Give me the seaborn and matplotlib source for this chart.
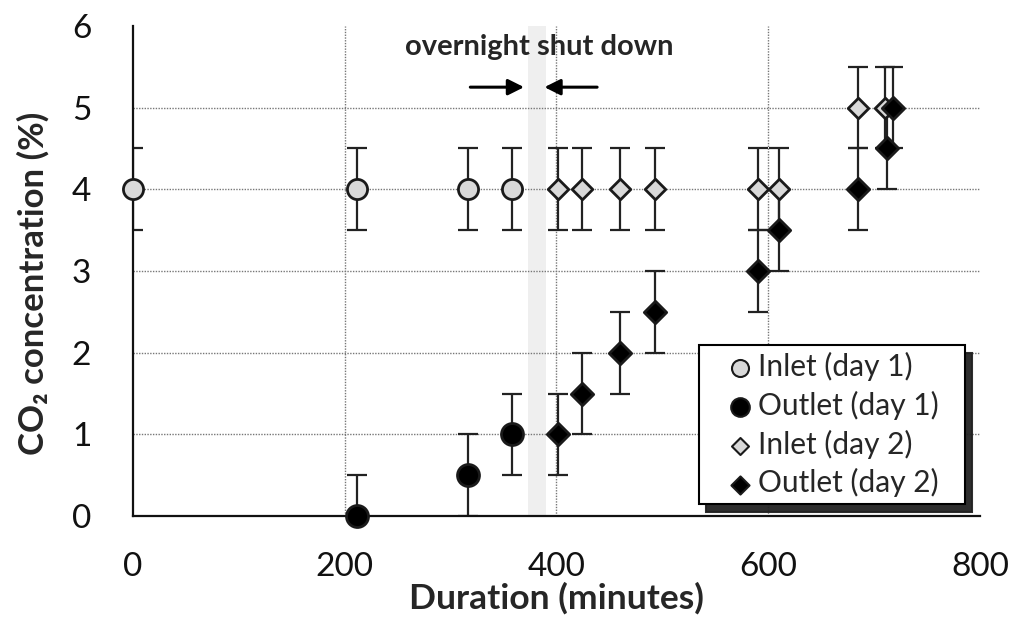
import matplotlib
matplotlib.use("Agg")
import matplotlib.pyplot as plt
import seaborn as sns
import pandas as pd

sns.set_theme(style="white")
plt.rcParams['font.family'] = ['Lato', 'DejaVu Sans']

# Measured CO2 concentrations (%), error +/- 0.5 %
inlet_d1_t = [0, 212, 316, 358]
inlet_d1_c = [4, 4, 4, 4]
outlet_d1_t = [212, 316, 358]
outlet_d1_c = [0, 0.5, 1.0]
inlet_d2_t = [401, 424, 460, 493, 590, 610, 685, 710]
inlet_d2_c = [4, 4, 4, 4, 4, 4, 5, 5]
outlet_d2_t = [401, 424, 460, 493, 590, 610, 685, 712, 718]
outlet_d2_c = [1, 1.5, 2, 2.5, 3, 3.5, 4, 4.5, 5]
err = 0.5

shutdown_span = (373, 390)
x_ticks = [0, 200, 400, 600, 800]
y_ticks = [0, 1, 2, 3, 4, 5, 6]

series = [
    ("Inlet (day 1)", inlet_d1_t, inlet_d1_c, "o", "#d9d9d9", 210),
    ("Outlet (day 1)", outlet_d1_t, outlet_d1_c, "o", "black", 250),
    ("Inlet (day 2)", inlet_d2_t, inlet_d2_c, "D", "#d9d9d9", 110),
    ("Outlet (day 2)", outlet_d2_t, outlet_d2_c, "D", "black", 130),
]
legend_sizes = [150, 180, 75, 85]

fig = plt.figure(figsize=(10.15, 6.24), dpi=100)
ax = fig.add_axes([0.131, 0.173, 0.8345, 0.7855])

ax.axvspan(*shutdown_span, color="#efefef", zorder=0.5, lw=0)

for label, t, c, m, fc, s in series:
    ax.errorbar(t, c, yerr=err, fmt="none", ecolor="#222222", elinewidth=1.6,
                capsize=7, capthick=1.6, zorder=2)

for label, t, c, m, fc, s in series:
    df = pd.DataFrame({"t": t, "c": c})
    sns.scatterplot(data=df, x="t", y="c", marker=m, s=s, color=fc,
                    edgecolor="#1a1a1a", linewidth=2, ax=ax, label=label,
                    zorder=3, clip_on=False)

ax.set_xlim(0, 800)
ax.set_ylim(0, 6)
ax.set_xticks(x_ticks)
ax.set_yticks(y_ticks)
ax.tick_params(axis="both", length=0, labelsize=24, colors="#111111")
ax.tick_params(axis="x", pad=26)
ax.tick_params(axis="y", pad=30)

ax.grid(True, linestyle=(0, (1, 1)), color="#777777", linewidth=1.0, zorder=0)
for gl in [ax.xaxis.get_gridlines()[0], ax.xaxis.get_gridlines()[-1],
           ax.yaxis.get_gridlines()[0], ax.yaxis.get_gridlines()[-1]]:
    gl.set_visible(False)

sns.despine(ax=ax, top=True, right=True)
for sp in ["left", "bottom"]:
    ax.spines[sp].set_color("#111111")
    ax.spines[sp].set_linewidth(1.6)

ax.set_xlabel("Duration (minutes)", fontsize=25.5, fontweight="bold", labelpad=0)
ax.set_ylabel("CO\u2082 concentration (%)", fontsize=25, fontweight="bold")
ax.yaxis.set_label_coords(-0.098, 0.475)

ax.text(384, 5.74, "overnight shut down", ha="center", va="center",
        fontsize=21, fontweight="bold")
ax.annotate("", xy=(372, 5.25), xytext=(316, 5.25),
            arrowprops=dict(arrowstyle="-|>", color="black", lw=2.2, mutation_scale=24))
ax.annotate("", xy=(386, 5.25), xytext=(441, 5.25),
            arrowprops=dict(arrowstyle="-|>", color="black", lw=2.2, mutation_scale=24))

leg = ax.legend(loc="lower left", bbox_to_anchor=(0.668, 0.0245, 0.314, 0.3),
                mode="expand", frameon=True, fancybox=False,
                shadow={"color": "#222222", "alpha": 0.95, "ox": 5.5, "oy": -5.5},
                edgecolor="black", fontsize=21.5, handletextpad=-0.55,
                borderpad=0.22, labelspacing=0.33, handlelength=2.3,
                borderaxespad=0.0)
leg.get_frame().set_linewidth(1.5)
for h, sz in zip(leg.legend_handles, legend_sizes):
    h.set_sizes([sz])
    h.set_linewidth(1.5)

fig.savefig("out.png", dpi=100)
